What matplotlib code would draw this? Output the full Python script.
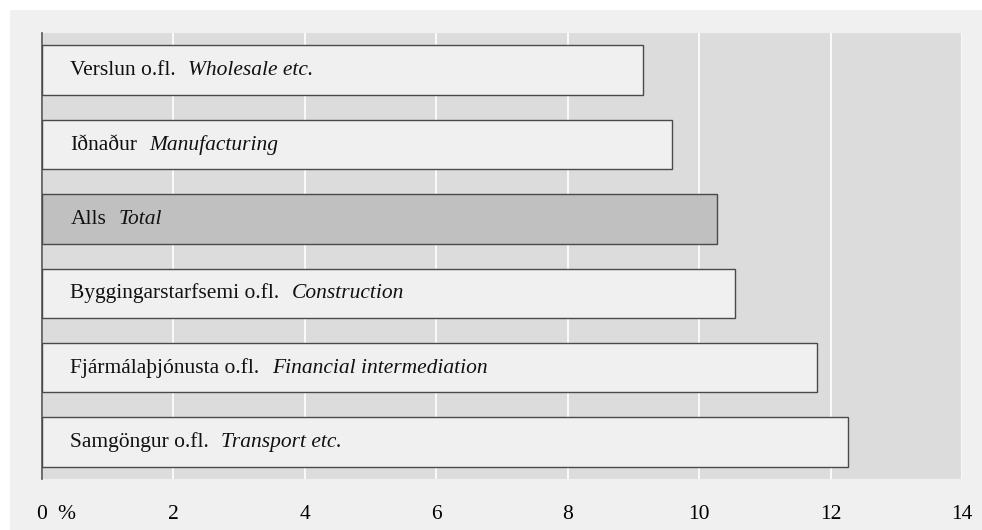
import matplotlib.pyplot as plt
from matplotlib.patches import Rectangle
from matplotlib.transforms import blended_transform_factory, offset_copy

# data, top to bottom
labels_is = ['Verslun o.fl.', 'Iðnaður', 'Alls', 'Byggingarstarfsemi o.fl.',
             'Fjármálaþjónusta o.fl.', 'Samgöngur o.fl.']
labels_en = ['Wholesale etc.', 'Manufacturing', 'Total', 'Construction',
             'Financial intermediation', 'Transport etc.']
values = [9.15, 9.59, 10.27, 10.55, 11.80, 12.27]
xticks = [0, 2, 4, 6, 8, 10, 12, 14]

plt.rcParams['font.family'] = ['Liberation Serif', 'DejaVu Serif']
FS = 15.5

fig = plt.figure(figsize=(9.82, 5.30), dpi=100)
fig.patch.set_facecolor('white')
fig.add_artist(Rectangle((10 / 982, 0), 1 - 10 / 982, 1 - 10 / 530,
                         transform=fig.transFigure, facecolor='#f0f0f0',
                         edgecolor='none', zorder=-5))

ax = fig.add_axes([41.5 / 982, 50.7 / 530, (962 - 41.5) / 982, (479.3 - 33) / 530])
ax.set_facecolor('#dcdcdc')

ypos = list(range(len(values)))
colors = ['#c0c0c0' if l == 'Alls' else '#f0f0f0' for l in labels_is]
ax.barh(ypos, values, height=0.665, color=colors, edgecolor='#4a4a4a',
        linewidth=1.0, zorder=3)

ax.set_xlim(0, 14)
ax.set_ylim(5.5, -0.5)

# bar labels: plain Icelandic, then italic English on the same baseline
firsts = []
for y, a in zip(ypos, labels_is):
    tr = offset_copy(ax.transData, fig=fig, x=29, y=-5, units='dots')
    firsts.append(ax.text(0, y, a, transform=tr, ha='left', va='baseline',
                          fontsize=FS, color='#111111', zorder=4))
fig.canvas.draw()
r = fig.canvas.get_renderer()
for t, y, b in zip(firsts, ypos, labels_en):
    bb = t.get_window_extent(r)
    tr = offset_copy(ax.transData, fig=fig, x=29 + bb.width + 12, y=-5, units='dots')
    ax.text(0, y, b, transform=tr, ha='left', va='baseline', fontsize=FS,
            style='italic', color='#111111', zorder=4)

ax.set_xticks(xticks)
ax.set_xticklabels([str(x) for x in xticks], fontsize=FS)
ax.set_yticks([])
ax.tick_params(axis='x', length=0, pad=18.5)
ax.grid(axis='x', color='white', linewidth=1.2, zorder=1)
ax.set_axisbelow(True)
for s in ['top', 'right', 'bottom']:
    ax.spines[s].set_visible(False)
ax.spines['left'].set_color('#555555')
ax.spines['left'].set_linewidth(1.2)

trans = offset_copy(blended_transform_factory(ax.transData, ax.transAxes),
                    fig=fig, y=-18.5, units='points')
ax.text(0.37, 0, '%', transform=trans, ha='center', va='top', fontsize=FS)

fig.savefig('out.png', dpi=100)
